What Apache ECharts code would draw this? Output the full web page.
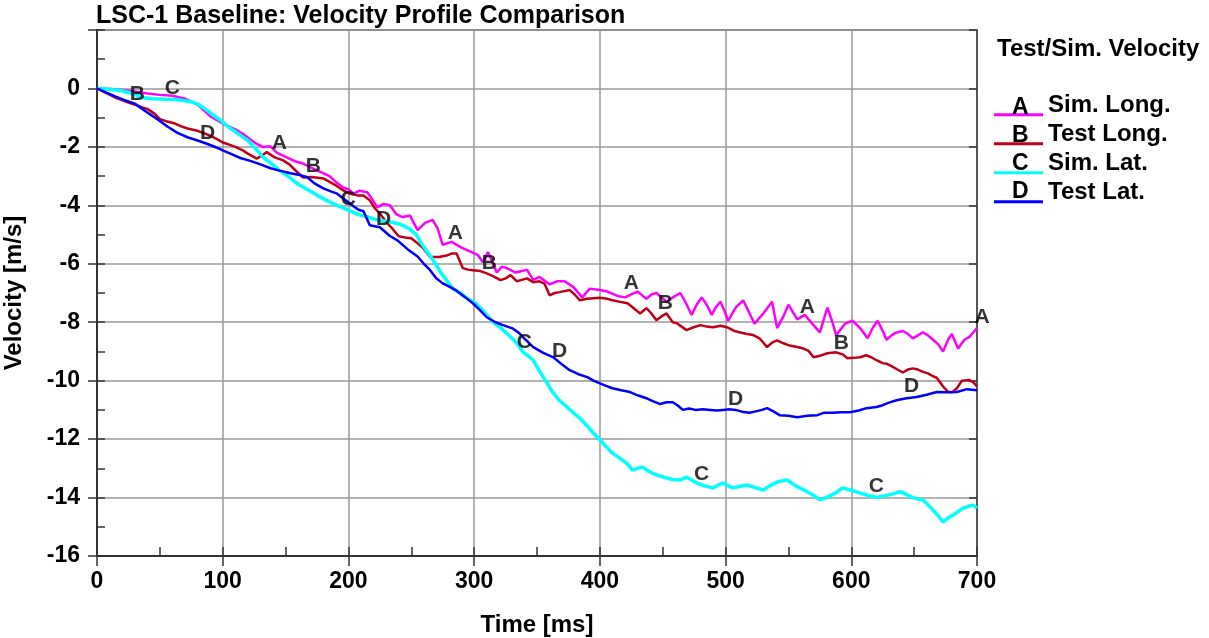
<!DOCTYPE html>
<html>
<head>
<meta charset="utf-8">
<script src="https://cdn.jsdelivr.net/npm/echarts@6/dist/echarts.min.js"></script>
<style>
	html, body { margin: 0; padding: 0; background: #fff; }
	#chart { width: 1209px; height: 638px; }
</style>
</head>
<body>
<div id="chart"></div>
<script>
(function(){

	// [time ms, velocity m/s]
	var simLong = [
		[0,0],[10,-0.02],[20,-0.05],[30,-0.1],[40,-0.17],[50,-0.22],[60,-0.25],[70,-0.35],[80,-0.55],[90,-0.95],
		[100,-1.2],[110,-1.4],[116,-1.55],[122,-1.75],[127,-1.9],[132,-2.0],[138,-1.98],[143,-2.2],[148,-2.3],[153,-2.4],
		[158,-2.5],[164,-2.57],[170,-2.7],[175,-2.8],[185,-3.0],[190,-3.2],[196,-3.4],[200,-3.45],[204,-3.6],[209,-3.5],
		[215,-3.55],[219,-3.8],[223,-4.07],[228,-3.95],[233,-4.0],[238,-4.3],[243,-4.4],[249,-4.35],[255,-4.85],[261,-4.6],
		[267,-4.5],[271,-4.8],[275,-5.35],[282,-5.25],[290,-5.45],[298,-5.6],[303,-5.7],[307,-5.95],[311,-5.6],[318,-6.3],
		[322,-6.1],[326,-6.15],[333,-6.3],[338,-6.25],[342,-6.2],[347,-6.55],[352,-6.45],[360,-6.7],[366,-6.6],[372,-6.6],
		[379,-6.8],[386,-7.15],[392,-6.85],[400,-6.9],[406,-6.95],[414,-7.1],[420,-7.15],[425,-7.05],[430,-6.95],[437,-7.2],
		[441,-7.05],[445,-7.0],[449,-7.15],[453,-7.3],[458,-7.15],[464,-7.0],[468,-7.3],[473,-7.75],[477,-7.4],[481,-7.15],
		[485,-7.4],[489,-7.75],[492,-7.5],[496,-7.3],[499,-7.6],[502,-7.95],[508,-7.5],[514,-7.25],[518,-7.6],[523,-8.05],
		[530,-7.7],[537,-7.3],[541,-8.2],[546,-7.8],[550,-7.4],[557,-7.9],[563,-7.75],[570,-8.1],[575,-8.35],[581,-7.5],
		[585,-8.0],[588,-8.45],[595,-8.05],[601,-7.95],[607,-8.2],[613,-8.55],[617,-8.2],[621,-7.95],[625,-8.3],[628,-8.6],
		[632,-8.45],[636,-8.35],[641,-8.3],[645,-8.4],[649,-8.55],[653,-8.45],[657,-8.35],[661,-8.45],[665,-8.6],[669,-8.75],
		[673,-9.0],[677,-8.6],[680,-8.4],[685,-8.9],[690,-8.6],[694,-8.5],[697,-8.35],[700,-8.2]
	];

	var testLong = [
		[0,0],[7,-0.15],[14,-0.3],[20,-0.4],[25,-0.48],[30,-0.55],[36,-0.65],[40,-0.7],[46,-0.87],[50,-1.05],
		[55,-1.12],[62,-1.2],[67,-1.3],[72,-1.37],[80,-1.45],[88,-1.58],[94,-1.7],[100,-1.85],[105,-1.92],[110,-2.0],
		[116,-2.12],[120,-2.23],[127,-2.4],[131,-2.3],[135,-2.18],[141,-2.35],[148,-2.46],[153,-2.6],[159,-2.85],[164,-3.05],
		[171,-3.03],[180,-3.08],[185,-3.2],[190,-3.32],[196,-3.49],[201,-3.6],[207,-3.66],[212,-3.66],[217,-3.83],[221,-4.1],
		[225,-4.28],[231,-4.62],[235,-4.8],[240,-5.06],[245,-5.1],[250,-5.13],[255,-5.3],[259,-5.44],[265,-5.77],[272,-5.77],
		[278,-5.72],[282,-5.65],[286,-5.65],[291,-6.15],[295,-6.2],[299,-6.22],[305,-6.25],[310,-6.33],[315,-6.42],[321,-6.56],
		[325,-6.5],[329,-6.39],[334,-6.6],[338,-6.55],[342,-6.5],[347,-6.63],[352,-6.6],[356,-6.68],[360,-7.08],[364,-7.0],
		[368,-6.97],[376,-6.9],[380,-7.05],[384,-7.25],[390,-7.2],[395,-7.18],[400,-7.16],[406,-7.2],[410,-7.25],[418,-7.32],
		[422,-7.35],[426,-7.49],[432,-7.7],[437,-7.52],[441,-7.7],[445,-7.93],[449,-7.8],[453,-7.7],[458,-8.0],[461,-8.03],
		[465,-8.15],[469,-8.27],[474,-8.18],[480,-8.1],[485,-8.15],[490,-8.17],[496,-8.12],[501,-8.17],[507,-8.3],[511,-8.34],
		[517,-8.4],[522,-8.44],[527,-8.55],[533,-8.85],[537,-8.7],[541,-8.62],[546,-8.72],[551,-8.8],[557,-8.85],[562,-8.9],
		[566,-8.98],[570,-9.2],[575,-9.15],[581,-9.06],[588,-9.03],[593,-9.1],[597,-9.23],[602,-9.22],[607,-9.2],[612,-9.13],
		[616,-9.2],[620,-9.3],[625,-9.4],[628,-9.42],[632,-9.5],[636,-9.6],[641,-9.72],[645,-9.62],[649,-9.58],[653,-9.62],
		[657,-9.7],[661,-9.75],[665,-9.85],[668,-9.9],[673,-10.2],[677,-10.38],[680,-10.4],[684,-10.26],[688,-10.0],[694,-9.98],
		[697,-10.05],[700,-10.2]
	];

	var simLat = [
		[0,0],[10,-0.03],[20,-0.08],[30,-0.2],[38,-0.33],[45,-0.35],[55,-0.37],[63,-0.38],[70,-0.42],[76,-0.47],
		[81,-0.56],[86,-0.7],[92,-0.9],[98,-1.08],[104,-1.3],[110,-1.48],[115,-1.63],[120,-1.78],[126,-2.05],[132,-2.35],
		[138,-2.55],[145,-2.8],[152,-3.0],[159,-3.25],[167,-3.45],[175,-3.65],[183,-3.84],[191,-4.0],[199,-4.15],[207,-4.3],
		[215,-4.4],[223,-4.5],[231,-4.55],[239,-4.62],[245,-4.72],[249,-4.82],[254,-5.0],[258,-5.3],[262,-5.55],[266,-5.78],
		[270,-6.05],[274,-6.33],[278,-6.56],[283,-6.85],[289,-7.0],[295,-7.2],[302,-7.38],[307,-7.6],[311,-7.8],[315,-8.0],
		[320,-8.15],[326,-8.38],[330,-8.55],[334,-8.72],[339,-9.03],[343,-9.15],[347,-9.3],[351,-9.6],[355,-9.88],[359,-10.15],
		[363,-10.43],[368,-10.68],[374,-10.9],[379,-11.1],[384,-11.28],[390,-11.55],[395,-11.8],[400,-12.03],[405,-12.25],[410,-12.48],
		[414,-12.6],[418,-12.72],[422,-12.85],[426,-13.06],[430,-13.0],[434,-12.96],[438,-13.08],[442,-13.17],[447,-13.25],[453,-13.33],
		[458,-13.38],[464,-13.4],[469,-13.3],[473,-13.4],[477,-13.5],[483,-13.6],[490,-13.67],[494,-13.58],[498,-13.5],[502,-13.6],
		[506,-13.67],[511,-13.62],[517,-13.57],[523,-13.65],[530,-13.74],[535,-13.6],[541,-13.47],[545,-13.43],[549,-13.4],[554,-13.55],
		[559,-13.67],[563,-13.75],[567,-13.85],[571,-13.95],[575,-14.08],[580,-14.0],[585,-13.9],[589,-13.8],[593,-13.67],[600,-13.75],
		[607,-13.85],[613,-13.92],[620,-14.0],[625,-13.95],[631,-13.9],[635,-13.85],[639,-13.8],[644,-13.9],[649,-14.0],[653,-14.05],
		[657,-14.08],[661,-14.25],[665,-14.43],[669,-14.62],[673,-14.83],[677,-14.7],[681,-14.6],[685,-14.48],[689,-14.36],[693,-14.3],
		[697,-14.26],[700,-14.36]
	];

	var testLat = [
		[0,0],[8,-0.15],[15,-0.28],[22,-0.4],[30,-0.52],[36,-0.7],[42,-0.88],[48,-1.05],[56,-1.3],[64,-1.52],
		[72,-1.67],[80,-1.78],[88,-1.9],[95,-2.02],[100,-2.12],[107,-2.25],[114,-2.38],[122,-2.48],[130,-2.6],[138,-2.73],
		[146,-2.82],[154,-2.9],[160,-2.95],[167,-3.03],[173,-3.25],[180,-3.42],[186,-3.52],[191,-3.6],[197,-3.8],[204,-4.03],
		[208,-4.15],[212,-4.2],[217,-4.68],[225,-4.75],[233,-5.05],[239,-5.2],[247,-5.5],[255,-5.75],[260,-6.0],[265,-6.22],
		[270,-6.5],[275,-6.67],[281,-6.8],[286,-6.92],[293,-7.15],[299,-7.35],[305,-7.6],[310,-7.83],[317,-8.0],[323,-8.1],
		[331,-8.22],[336,-8.38],[341,-8.6],[347,-8.85],[355,-9.05],[363,-9.2],[370,-9.45],[376,-9.64],[383,-9.78],[390,-9.88],
		[395,-10.0],[400,-10.09],[405,-10.18],[410,-10.26],[417,-10.33],[424,-10.39],[430,-10.5],[437,-10.6],[442,-10.7],[448,-10.8],
		[453,-10.74],[458,-10.74],[462,-10.85],[466,-11.0],[471,-10.95],[476,-11.0],[482,-10.98],[488,-11.0],[493,-11.02],[498,-11.0],
		[503,-10.98],[508,-11.0],[513,-11.06],[519,-11.1],[524,-11.05],[529,-11.0],[533,-10.94],[538,-11.05],[543,-11.18],[550,-11.2],
		[557,-11.25],[565,-11.2],[573,-11.18],[578,-11.1],[585,-11.1],[592,-11.08],[599,-11.08],[606,-11.02],[612,-10.94],[620,-10.9],
		[625,-10.84],[630,-10.75],[636,-10.67],[644,-10.6],[652,-10.56],[660,-10.48],[668,-10.39],[676,-10.4],[684,-10.39],[692,-10.29],
		[700,-10.33]
	];

	// times where the curve letters sit
	var simLongMarks = [145, 285, 425, 565, 704];
	var testLongMarks = [32, 172, 312, 452, 592];
	var simLatMarks = [60, 200, 340, 481, 620];
	var testLatMarks = [88, 228, 368, 508, 648];

	var names = ['Sim. Long.', 'Test Long.', 'Sim. Lat.', 'Test Lat.'];
	var letters = ['A', 'B', 'C', 'D'];
	var colors = ['#ff00ff', '#c00018', '#00ffff', '#0000ff'];
	var widths = [2.5, 2.5, 3.5, 2.5];

	var FONT = "'Liberation Sans', Arial, sans-serif";

	var valueAt = function( arr, t ){
		var last = arr.length - 1;
		if( t <= arr[0][0] ) return arr[0][1];
		if( t >= arr[last][0] ) return arr[last][1];
		for( var i = 1; i <= last; i++ ){
			if( arr[i][0] >= t ){
				var a = arr[i-1], b = arr[i];
				return a[1] + ( b[1] - a[1] ) * ( t - a[0] ) / ( b[0] - a[0] );
			}
		}
		return arr[last][1];
	};

	var curves = [simLong, testLong, simLat, testLat];
	var marks = [simLongMarks, testLongMarks, simLatMarks, testLatMarks];

	var series = [];
	curves.forEach(function( arr, i ){
		series.push({
			name: names[i],
			type: 'line',
			xAxisIndex: 0, yAxisIndex: 0,
			data: arr,
			showSymbol: false,
			symbol: 'none',
			lineStyle: { color: colors[i], width: widths[i] },
			itemStyle: { color: colors[i] },
			z: 2 + i,
			silent: true,
			animation: false
		});
	});
	curves.forEach(function( arr, i ){
		series.push({
			name: 'mark' + letters[i],
			type: 'scatter',
			xAxisIndex: 0, yAxisIndex: 0,
			clip: false,
			symbol: 'circle',
			symbolSize: 1,
			itemStyle: { color: 'rgba(0,0,0,0)' },
			z: 10,
			silent: true,
			animation: false,
			label: {
				show: true,
				position: 'top',
				distance: 0,
				formatter: letters[i],
				color: '#000',
				fontFamily: FONT,
				fontWeight: 'bold',
				fontSize: 21
			},
			data: marks[i].map(function( t ){ return [t, valueAt( arr, t )]; })
		});
	});

	var LEG_LEFT = 994, LEG_TOP = 93, LEG_ROW = 28;

	var graphics = letters.map(function( l, i ){
		return {
			type: 'text',
			left: LEG_LEFT + 18,
			top: LEG_TOP + i * LEG_ROW + 3,
			style: { text: l, font: 'bold 23px ' + FONT, fill: '#000' },
			z: 20
		};
	});

	var axisLineStyle = { color: '#333', width: 2 };
	var tickLine = { color: '#333', width: 1.5 };
	var labelStyle = { color: '#000', fontFamily: FONT, fontWeight: 'bold', fontSize: 23 };
	var nameStyle = { color: '#000', fontFamily: FONT, fontWeight: 'bold', fontSize: 24 };
	var gridBox = { left: 97, right: 232, top: 30, bottom: 82, outerBoundsMode: 'none', containLabel: false };

	var option = {
		animation: false,
		title: [
			{
				text: 'LSC-1 Baseline: Velocity Profile Comparison',
				left: 96, top: 4, padding: 0,
				textStyle: { color: '#000', fontFamily: FONT, fontWeight: 'bold', fontSize: 25 }
			},
			{
				text: 'Test/Sim. Velocity',
				left: 997, top: 37, padding: 0,
				textStyle: { color: '#000', fontFamily: FONT, fontWeight: 'bold', fontSize: 24 }
			}
		],
		legend: {
			data: names,
			orient: 'vertical',
			left: LEG_LEFT, top: LEG_TOP,
			padding: 0,
			itemWidth: 49, itemHeight: 23, itemGap: LEG_ROW - 23,
			icon: 'path://M0,0 M0,20 L50,20 L50,23 L0,23 Z',
			itemStyle: { borderWidth: 0 },
			selectedMode: false,
			textStyle: { color: '#000', fontFamily: FONT, fontWeight: 'bold', fontSize: 24, lineHeight: 23 }
		},
		graphic: graphics,
		grid: [
			Object.assign({ show: true, borderColor: '#444', borderWidth: 1.5 }, gridBox),
			Object.assign({ show: false }, gridBox)
		],
		xAxis: [
			{
				// gridlines + inward ticks every 50
				gridIndex: 0, type: 'value', min: 0, max: 700, interval: 100, position: 'bottom',
				axisLine: { onZero: false, lineStyle: axisLineStyle },
				axisTick: { show: true, inside: true, length: 9, lineStyle: tickLine },
				minorTick: { show: true, splitNumber: 2, length: 9, lineStyle: tickLine },
				axisLabel: { show: false },
				splitLine: { show: true, lineStyle: { color: '#999', width: 1.5 } }
			},
			{
				// labels + outward major ticks
				gridIndex: 1, type: 'value', min: 0, max: 700, interval: 100, position: 'bottom',
				name: 'Time [ms]', nameLocation: 'middle', nameGap: 57,
				nameTextStyle: nameStyle,
				axisLine: { onZero: false, lineStyle: axisLineStyle },
				axisTick: { show: true, inside: false, length: 10, lineStyle: tickLine },
				axisLabel: Object.assign({ margin: 14 }, labelStyle),
				splitLine: { show: false }
			}
		],
		yAxis: [
			{
				gridIndex: 0, type: 'value', min: -16, max: 2, interval: 2, position: 'left',
				axisLine: { onZero: false, lineStyle: axisLineStyle },
				axisTick: { show: true, inside: true, length: 8, lineStyle: tickLine },
				minorTick: { show: true, splitNumber: 2, length: 8, lineStyle: tickLine },
				axisLabel: { show: false },
				splitLine: { show: true, lineStyle: { color: '#999', width: 1.5 } }
			},
			{
				gridIndex: 0, type: 'value', min: -16, max: 2, interval: 2, position: 'right',
				axisLine: { show: true, onZero: false, lineStyle: { color: '#444', width: 1.5 } },
				axisTick: { show: true, inside: true, length: 8, lineStyle: tickLine },
				axisLabel: { show: false },
				splitLine: { show: false }
			},
			{
				gridIndex: 1, type: 'value', min: -16, max: 2, interval: 2, position: 'left',
				name: 'Velocity [m/s]', nameLocation: 'middle', nameGap: 71,
				nameTextStyle: nameStyle,
				axisLine: { onZero: false, lineStyle: axisLineStyle },
				axisTick: { show: true, inside: false, length: 9, lineStyle: tickLine },
				axisLabel: Object.assign({ margin: 17, formatter: function( v ){ return v > 0 ? '' : String( v ); } }, labelStyle),
				splitLine: { show: false }
			}
		],
		series: series
	};

	var myChart = echarts.init( document.getElementById( 'chart' ), null, { renderer: 'canvas' } );
	myChart.setOption( option, true );

	window.addEventListener( 'resize', function(){ myChart.resize(); } );
})();
</script>
</body>
</html>
